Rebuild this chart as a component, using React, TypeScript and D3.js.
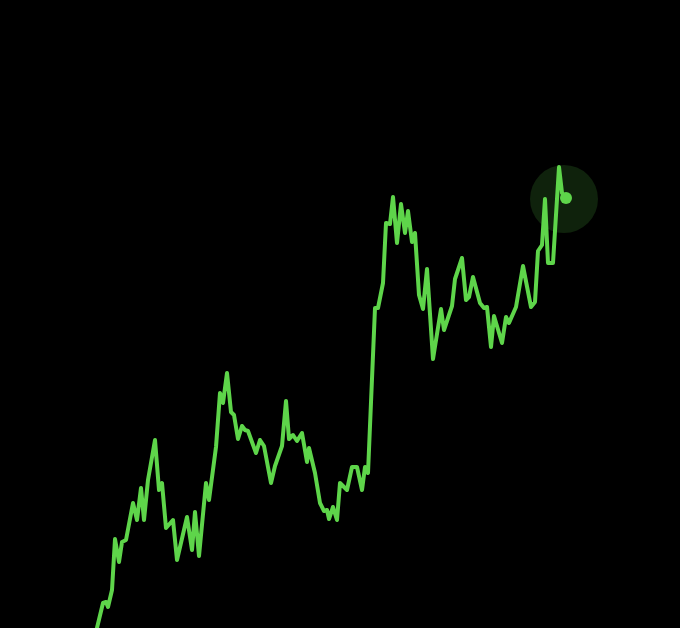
import React from "react";
import * as d3 from "d3";

const days = [
  0, 7, 10, 12, 16, 19, 23, 26, 30, 37,
  41, 45, 48, 52, 59, 63, 66, 70, 77, 81,
  91, 96, 99, 103, 110, 113, 120, 124, 127, 131,
  135, 138, 142, 146, 149, 152, 160, 164, 168, 175,
  179, 186, 190, 193, 197, 201, 206, 211, 213, 219,
  224, 228, 231, 233, 237, 241, 244, 251, 256, 261,
  266, 269, 272, 279, 282, 287, 290, 294, 297, 301,
  305, 309, 312, 316, 319, 323, 327, 331, 337, 345,
  348, 356, 359, 366, 370, 373, 377, 384, 388, 391,
  395, 398, 406, 410, 413, 420, 427, 435, 439, 442,
  446, 449, 452, 457, 463, 466, 470,
];

const prices = [
  68, 97, 98, 93, 110, 161, 138, 158, 160, 197,
  180, 212, 180, 220, 260, 210, 217, 172, 180, 140,
  183, 150, 188, 144, 217, 200, 253, 307, 297, 327,
  288, 285, 261, 274, 270, 269, 247, 260, 254, 217,
  234, 254, 299, 261, 265, 259, 267, 238, 252, 227,
  197, 189, 190, 181, 193, 180, 217, 210, 233, 233,
  210, 233, 227, 392, 392, 417, 477, 476, 503, 457,
  496, 467, 489, 458, 467, 405, 391, 431, 341, 391,
  370, 394, 421, 442, 400, 403, 423, 397, 392, 393,
  353, 384, 357, 383, 377, 393, 434, 393, 398, 449,
  455, 501, 437, 437, 533, 507, 502,
];

const W = 680;
const H = 628;

export default function App() {
  if (typeof document !== "undefined") {
    document.body.style.margin = "0";
    document.body.style.background = "#000";
  }
  const x = d3.scaleLinear().domain([0, 470]).range([96, 566]);
  const y = d3.scaleLinear().domain([0, 700]).range([700, 0]);
  const data = days.map((d, i) => ({ d, p: prices[i] }));
  const line = d3
    .line<{ d: number; p: number }>()
    .x((v) => x(v.d))
    .y((v) => y(v.p))
    .curve(d3.curveLinear);
  const last = data[data.length - 1];
  return (
    <svg
      width={W}
      height={H}
      style={{ display: "block", position: "absolute", left: 0, top: 0, background: "#000" }}
    >
      <rect x={0} y={0} width={W} height={H} fill="#000" />
      <circle cx={x(last.d) - 2} cy={y(last.p) + 1} r={34} fill="#5ed54a" fillOpacity={0.16} />
      <path
        d={line(data) || ""}
        fill="none"
        stroke="#5ed54a"
        strokeWidth={4}
        strokeLinejoin="round"
        strokeLinecap="round"
      />
      <circle cx={x(last.d)} cy={y(last.p)} r={6} fill="#5ed54a" />
    </svg>
  );
}
